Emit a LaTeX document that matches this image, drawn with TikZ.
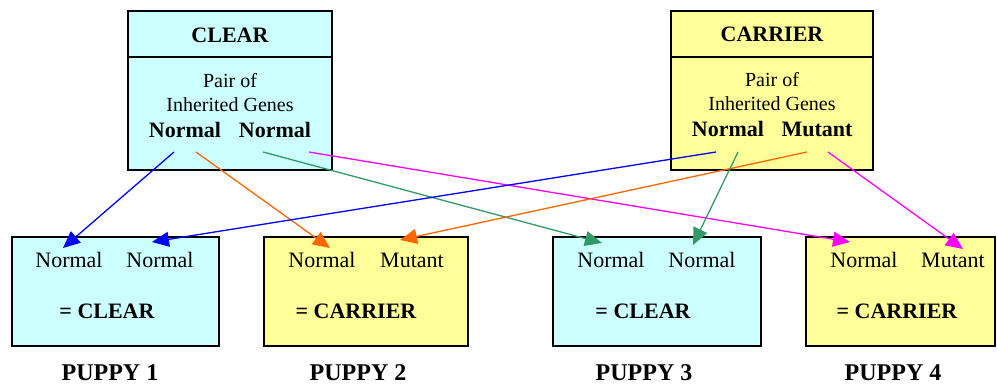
\documentclass[tikz,border=0pt]{standalone}
\usepackage{fontspec}
\setmainfont{Liberation Serif}
\usetikzlibrary{arrows.meta}
\definecolor{cyanfill}{RGB}{204,255,255}
\definecolor{yelfill}{RGB}{255,255,153}
\definecolor{ablue}{RGB}{0,0,255}
\definecolor{aorange}{RGB}{255,102,0}
\definecolor{agreen}{RGB}{51,153,102}
\definecolor{amag}{RGB}{255,0,255}
\tikzset{
  box/.style={draw=black, line width=1.5pt, inner sep=0pt},
  big/.style={font=\fontsize{22}{26}\selectfont, anchor=base, inner sep=0pt},
  bigb/.style={font=\fontsize{22}{26}\selectfont\bfseries, anchor=base, inner sep=0pt},
  small/.style={font=\fontsize{20}{24}\selectfont, anchor=base, inner sep=0pt},
  puppy/.style={font=\fontsize{24}{28}\selectfont\bfseries, anchor=base, inner sep=0pt},
  conn/.style={line width=1.3pt, -{Triangle[length=17pt,width=15pt]}},
}
\begin{document}
\begin{tikzpicture}[x=1pt,y=-1pt]
\useasboundingbox (0,0) rectangle (997,385);
% parent boxes
\node[box, fill=cyanfill, minimum width=204pt, minimum height=159pt] (clear) at (230,90.5) {};
\draw[line width=1.5pt] (clear.west |- 0,57) -- (clear.east |- 0,57);
\node[box, fill=yelfill, minimum width=202pt, minimum height=159pt] (carrier) at (772,90.5) {};
\draw[line width=1.5pt] (carrier.west |- 0,57) -- (carrier.east |- 0,57);
\node[bigb] (cleart) at (230,43) {CLEAR};
\node[small] (clearp1) at (230,88) {Pair of};
\node[small] (clearp2) at (230,112) {Inherited Genes};
\node[bigb] (clearg1) at (185,138) {Normal};
\node[bigb] (clearg2) at (275,138) {Normal};
\node[bigb] (carriert) at (772,42) {CARRIER};
\node[small] (carrierp1) at (772,87) {Pair of};
\node[small] (carrierp2) at (772,111) {Inherited Genes};
\node[bigb] (carrierg1) at (728,137) {Normal};
\node[bigb] (carrierg2) at (817,137) {Mutant};
% puppy boxes
\node[box, fill=cyanfill, minimum width=207pt, minimum height=109pt] (p1) at (115.5,291.5) {};
\node[box, fill=yelfill, minimum width=204pt, minimum height=109pt] (p2) at (366,291.5) {};
\node[box, fill=cyanfill, minimum width=208pt, minimum height=109pt] (p3) at (657,291.5) {};
\node[box, fill=yelfill, minimum width=189pt, minimum height=109pt] (p4) at (900.5,291.5) {};
\node[big] (p1a) at (69,268) {Normal};
\node[big] (p1b) at (160,268) {Normal};
\node[bigb] (p1r) at (107,318) {= CLEAR};
\node[big] (p2a) at (322,268) {Normal};
\node[big] (p2b) at (412,268) {Mutant};
\node[bigb] (p2r) at (356,318) {= CARRIER};
\node[big] (p3a) at (611,268) {Normal};
\node[big] (p3b) at (702,268) {Normal};
\node[bigb] (p3r) at (643,318) {= CLEAR};
\node[big] (p4a) at (864,268) {Normal};
\node[big] (p4b) at (953,268) {Mutant};
\node[bigb] (p4r) at (897,318) {= CARRIER};
\node[puppy] (l1) at (110,380) {PUPPY 1};
\node[puppy] (l2) at (358,380) {PUPPY 2};
\node[puppy] (l3) at (644,380) {PUPPY 3};
\node[puppy] (l4) at (893,380) {PUPPY 4};
% connector ends
\coordinate (s1) at (174,152);
\coordinate (s2) at (196,152);
\coordinate (s3) at (263,152);
\coordinate (s4) at (309,152);
\coordinate (t1) at (716,152);
\coordinate (t2) at (738,152);
\coordinate (t3) at (807,152);
\coordinate (t4) at (828,152);
\coordinate (e1a) at (63,248);
\coordinate (e1b) at (152,242);
\coordinate (e2a) at (330,248);
\coordinate (e2b) at (400,240);
\coordinate (e3a) at (602,243);
\coordinate (e3b) at (693,245);
\coordinate (e4a) at (850,242);
\coordinate (e4b) at (963,249);
\draw[conn, ablue] (s1) -- (e1a);
\draw[conn, aorange] (s2) -- (e2a);
\draw[conn, agreen] (s3) -- (e3a);
\draw[conn, amag] (s4) -- (e4a);
\draw[conn, ablue] (t1) -- (e1b);
\draw[conn, aorange] (t3) -- (e2b);
\draw[conn, agreen] (t2) -- (e3b);
\draw[conn, amag] (t4) -- (e4b);
\end{tikzpicture}
\end{document}
